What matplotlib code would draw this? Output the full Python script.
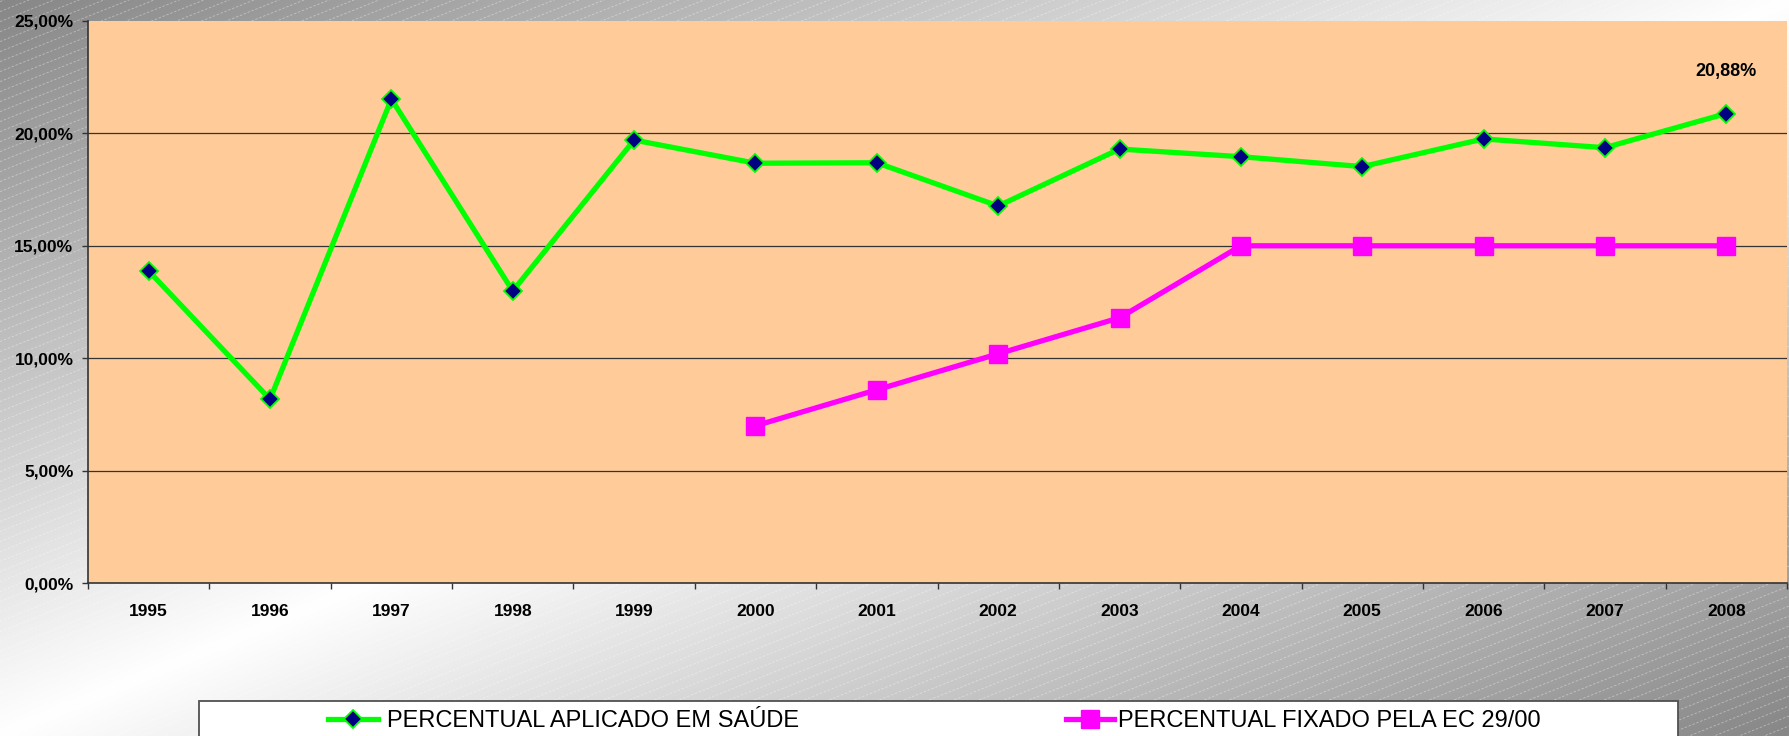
import numpy as np
import matplotlib
matplotlib.use("Agg")
import matplotlib.pyplot as plt
from matplotlib.patches import Rectangle

anos = ["1995", "1996", "1997", "1998", "1999", "2000", "2001",
        "2002", "2003", "2004", "2005", "2006", "2007", "2008"]
aplicado = [13.88, 8.18, 21.52, 12.99, 19.70, 18.67, 18.69,
            16.77, 19.30, 18.96, 18.52, 19.75, 19.36, 20.88]
fixado_anos = ["2000", "2001", "2002", "2003", "2004", "2005", "2006", "2007", "2008"]
fixado = [7.0, 8.6, 10.2, 11.8, 15.0, 15.0, 15.0, 15.0, 15.0]
y_ticks = [0, 5, 10, 15, 20, 25]

W, H = 1789, 736
plt.rcParams['font.family'] = ['Liberation Sans', 'DejaVu Sans']

fig = plt.figure(figsize=(W / 100, H / 100), dpi=100)

# background: diagonal gray-white-gray gradient with thin dashed stripes
bg = fig.add_axes([0, 0, 1, 1], zorder=-1)
gx, gy = np.meshgrid(np.linspace(0, 1, 400), np.linspace(0, 1, 200))
t = np.abs(gx + gy - 1.0)
shade = 1.0 - 0.47 * t
bg.imshow(np.dstack([shade, shade, shade]), extent=[0, W, 0, H], aspect='auto',
          interpolation='bilinear')
for c in np.arange(-0.4 * W, H, 10):
    bg.plot([0, W], [c, c + 0.4 * W], color='white', lw=0.6, alpha=0.4,
            dashes=(3, 2))
bg.set_xlim(0, W)
bg.set_ylim(0, H)
bg.axis('off')

ax = fig.add_axes([88 / W, 1 - 583.3 / H, (1787 - 88) / W, (583.3 - 20.8) / H])
ax.set_facecolor('#FFCC99')

x = np.arange(len(anos))
xf = np.array([anos.index(a) for a in fixado_anos])

for y in y_ticks[1:-1]:
    ax.axhline(y, color='#333333', lw=0.9, zorder=1)

l1, = ax.plot(x, aplicado, color='#00FF00', lw=3.8, marker='D', ms=9,
              mfc='#000080', mec='#00FF00', mew=1.3, zorder=3,
              label='PERCENTUAL APLICADO EM SAÚDE')
l2, = ax.plot(xf, fixado, color='#FF00FF', lw=3.8, marker='s', ms=13,
              mfc='#FF00FF', mec='#FF00FF', zorder=3,
              label='PERCENTUAL FIXADO PELA EC 29/00')

ax.annotate('20,88%', (x[-1], aplicado[-1]), xytext=(0, 30), textcoords='offset points',
            ha='center', va='center', fontsize=13, fontweight='bold')

ax.set_xlim(-0.5, len(anos) - 0.5)
ax.set_ylim(0, 25)
ax.set_yticks(y_ticks)
ax.set_yticklabels([f"{v:.2f}".replace('.', ',') + '%' for v in y_ticks],
                   fontsize=12.5, fontweight='bold')
ax.set_xticks(x)
ax.set_xticklabels(anos, fontsize=12.5, fontweight='bold')
ax.set_xticks(np.arange(-0.5, len(anos)), minor=True)
ax.tick_params(axis='x', which='major', length=0, pad=15)
ax.tick_params(axis='x', which='minor', length=4.5, width=1, color='#333333', direction='out')
ax.tick_params(axis='y', length=4.5, width=1, color='#333333', pad=6)

for s in ['top', 'right']:
    ax.spines[s].set_visible(False)
for s in ['left', 'bottom']:
    ax.spines[s].set_color('#333333')
    ax.spines[s].set_linewidth(1.2)

# legend box
fig.patches.append(Rectangle((199 / W, -0.1), (1678 - 199) / W, (736 - 701) / H + 0.1,
                             transform=fig.transFigure, facecolor='white',
                             edgecolor='#505050', lw=1.3, zorder=1))
leg1 = fig.legend(handles=[l1], loc='center left', bbox_to_anchor=(328 / W, 1 - 721 / H),
                  frameon=False, fontsize=17, borderpad=0, borderaxespad=0,
                  handlelength=2.1, handletextpad=0.38)
leg2 = fig.legend(handles=[l2], loc='center left', bbox_to_anchor=(1066 / W, 1 - 721 / H),
                  frameon=False, fontsize=17, borderpad=0, borderaxespad=0,
                  handlelength=2.05, handletextpad=0.17)
for leg in (leg1, leg2):
    leg.set_zorder(5)

fig.savefig('out.png', dpi=100)
